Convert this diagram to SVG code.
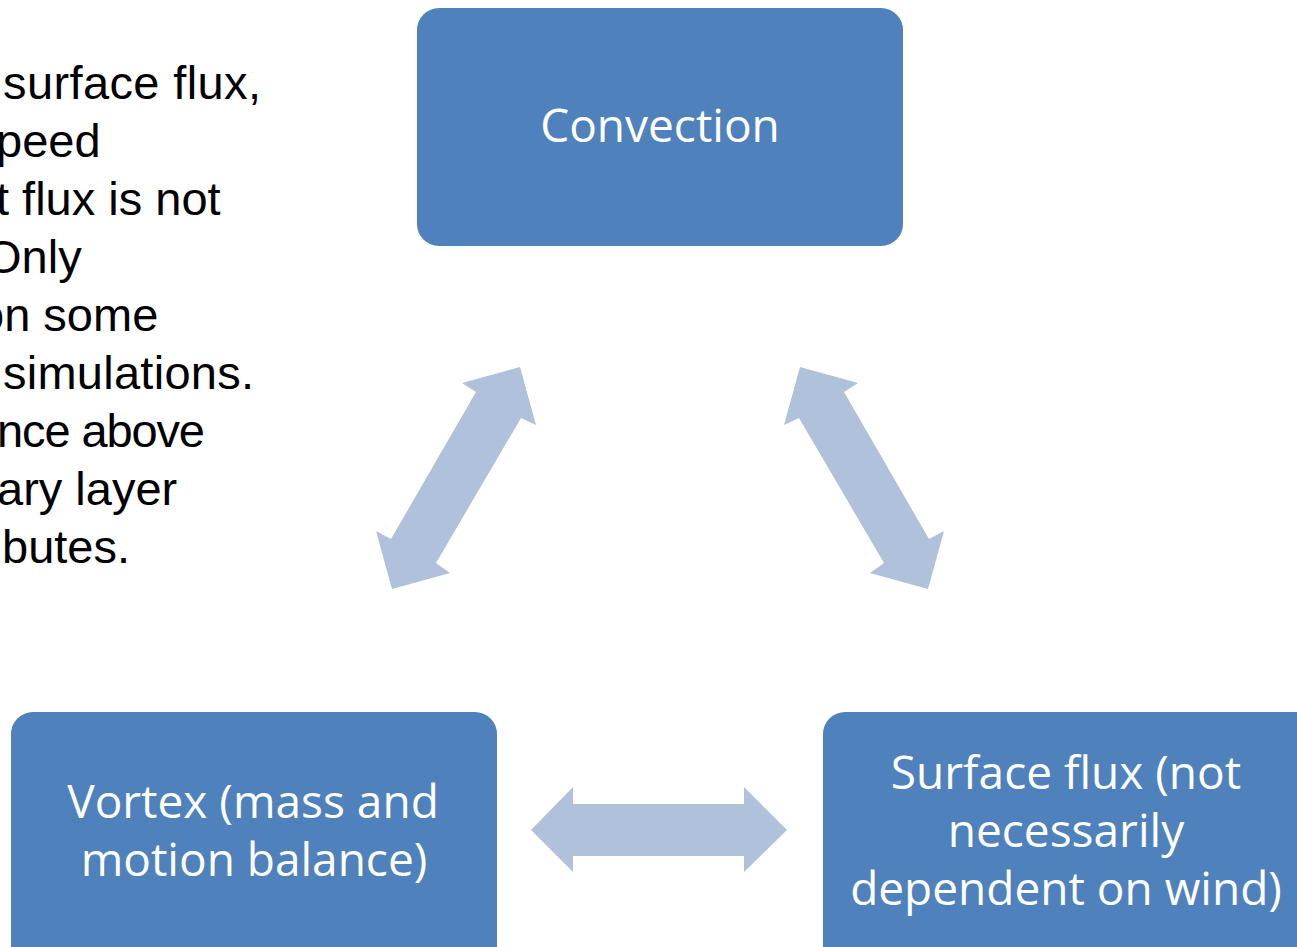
<svg xmlns="http://www.w3.org/2000/svg" width="1297" height="947" viewBox="0 0 1297 947">
<style>
.box{fill:#4F81BD;}
.lbl{font-family:"Open Sans","Noto Sans",sans-serif;font-size:46px;fill:#FFFFFF;text-anchor:middle;}
.note{font-family:"Liberation Sans",Arial,sans-serif;font-size:47px;fill:#000000;}
.arr{fill:#B0C1DC;}
</style>
<rect width="1297" height="947" fill="#FFFFFF"/>
<g id="note">
<text class="note" x="3" y="99" textLength="258">surface flux,</text>
<text class="note" x="-4" y="157">peed</text>
<text class="note" x="-4" y="215">t flux is not</text>
<text class="note" x="-15" y="273">Only</text>
<text class="note" x="-22" y="331">on some</text>
<text class="note" x="3" y="389" textLength="251">simulations.</text>
<text class="note" x="-3" y="447" textLength="208">nce above</text>
<text class="note" x="-3" y="505">ary layer</text>
<text class="note" x="2" y="563">butes.</text>
</g>
<g id="connectors">
<polygon class="arr" points="520,367 536,425 521,418 436,563 450,573 392,589 376,531 391,539 476,392 462,383"/>
<polygon class="arr" points="800,367 784,425 799,418 884,563 870,573 928,589 944,531 929,539 844,392 858,383"/>
<polygon class="arr" points="531,830 573,787 573,804 744,804 744,787 787,830 744,872 744,856 573,856 573,872"/>
</g>
<g id="convection">
<rect class="box" x="417" y="8" width="486" height="238" rx="22"/>
<text class="lbl" x="660" y="142">Convection</text>
</g>
<g id="vortex">
<rect class="box" x="11" y="712" width="486" height="260" rx="22"/>
<text class="lbl" x="253" y="818">Vortex (mass and</text>
<text class="lbl" x="254" y="876">motion balance)</text>
</g>
<g id="surface">
<rect class="box" x="823" y="712" width="500" height="260" rx="22"/>
<text class="lbl" x="1066" y="789">Surface flux (not</text>
<text class="lbl" x="1066" y="847">necessarily</text>
<text class="lbl" x="1066" y="905">dependent on wind)</text>
</g>
</svg>
